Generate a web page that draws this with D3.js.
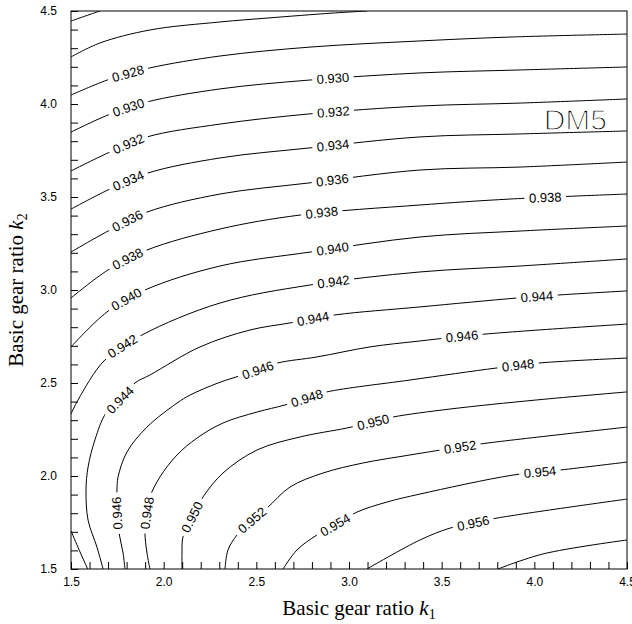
<!DOCTYPE html>
<html>
<head>
<meta charset="utf-8">
<script src="https://cdn.jsdelivr.net/npm/d3@7"></script>
<style>
  body { margin: 0; background: #fff; }
  svg { display: block; }
  .tick text { font-family: "Liberation Sans", Arial, sans-serif; font-size: 12px; fill: #000; }
  .tick line { stroke: #000; }
</style>
</head>
<body>
<div id="chart-area"></div>
<script>
// contour lines, [k1, k2]
const line924 = [[1.5, 4.446], [1.58, 4.474], [1.656, 4.5]];
const line926 = [[1.5, 4.253], [1.656, 4.328], [1.926, 4.398], [2.304, 4.441], [2.558, 4.462], [2.914, 4.489], [3.097, 4.5]];
const line928 = [[1.5, 4.048], [1.71, 4.134], [1.926, 4.194], [2.304, 4.258], [2.79, 4.306], [3.383, 4.339], [3.869, 4.36], [4.5, 4.376]];
const line930 = [[1.5, 3.849], [1.7, 3.941], [1.91, 4.011], [2.304, 4.081], [2.79, 4.129], [3.383, 4.167], [3.923, 4.183], [4.5, 4.199]];
const line932 = [[1.5, 3.64], [1.7, 3.737], [1.91, 3.823], [2.304, 3.892], [2.779, 3.946], [3.383, 3.989], [3.923, 4.005], [4.5, 4.027]];
const line934 = [[1.5, 3.435], [1.7, 3.538], [1.915, 3.629], [2.304, 3.71], [2.779, 3.763], [3.383, 3.823], [3.923, 3.839], [4.5, 3.855]];
const line936 = [[1.5, 3.204], [1.7, 3.317], [1.91, 3.419], [2.304, 3.516], [2.779, 3.575], [3.383, 3.645], [3.923, 3.661], [4.5, 3.688]];
const line938 = [[1.5, 2.957], [1.7, 3.108], [1.91, 3.215], [2.304, 3.328], [2.736, 3.403], [3.383, 3.457], [3.869, 3.489], [4.5, 3.516]];
const line940 = [[1.5, 2.694], [1.694, 2.882], [1.899, 3.0], [2.304, 3.129], [2.79, 3.204], [3.383, 3.285], [3.923, 3.317], [4.5, 3.344]];
const line942 = [[1.5, 2.333], [1.538, 2.409], [1.683, 2.624], [1.883, 2.758], [2.304, 2.93], [2.79, 3.027], [3.383, 3.097], [3.923, 3.129], [4.5, 3.167]];
const line942b = [[1.5, 1.705], [1.545, 1.6], [1.59, 1.5]];
const line944 = [[1.673, 1.5], [1.64, 1.618], [1.592, 1.763], [1.581, 1.925], [1.592, 2.048], [1.629, 2.194], [1.689, 2.339], [1.764, 2.409], [1.845, 2.5], [1.926, 2.543], [2.196, 2.694], [2.466, 2.785], [2.682, 2.823], [2.925, 2.866], [3.383, 2.909], [3.907, 2.957], [4.128, 2.973], [4.5, 2.995]];
const line946 = [[1.791, 1.5], [1.781, 1.586], [1.759, 1.694], [1.748, 1.801], [1.748, 1.925], [1.754, 1.995], [1.802, 2.129], [1.91, 2.263], [2.072, 2.392], [2.142, 2.435], [2.293, 2.5], [2.374, 2.527], [2.509, 2.57], [2.617, 2.608], [2.827, 2.64], [3.113, 2.694], [3.383, 2.726], [3.734, 2.763], [4.5, 2.817]];
const line948 = [[1.926, 1.5], [1.91, 1.586], [1.899, 1.699], [1.91, 1.801], [1.926, 1.887], [1.98, 1.995], [2.072, 2.113], [2.18, 2.204], [2.32, 2.285], [2.504, 2.344], [2.655, 2.382], [2.773, 2.419], [2.881, 2.452], [3.329, 2.516], [3.799, 2.581], [4.031, 2.608], [4.5, 2.634]];
const line950 = [[2.099, 1.5], [2.099, 1.586], [2.104, 1.672], [2.153, 1.78], [2.212, 1.887], [2.32, 2.016], [2.504, 2.14], [2.736, 2.21], [2.989, 2.258], [3.13, 2.29], [3.237, 2.317], [3.545, 2.36], [4.014, 2.409], [4.5, 2.452]];
const line952 = [[2.331, 1.5], [2.347, 1.602], [2.396, 1.683], [2.477, 1.763], [2.558, 1.828], [2.682, 1.941], [2.86, 2.016], [3.076, 2.07], [3.329, 2.113], [3.599, 2.156], [3.745, 2.177], [4.5, 2.263]];
const line954 = [[2.644, 1.5], [2.719, 1.602], [2.827, 1.683], [2.925, 1.737], [3.043, 1.806], [3.205, 1.86], [3.383, 1.903], [3.885, 2.005], [4.139, 2.032], [4.5, 2.075]];
const line956 = [[3.097, 1.5], [3.383, 1.656], [3.545, 1.72], [3.669, 1.747], [3.799, 1.774], [4.5, 1.876]];
const line958 = [[3.804, 1.5], [4.047, 1.581], [4.5, 1.656]];

// [level, k1, k2] where each label sits
const contourLabels = [
  [0.928, 1.808, 4.167],
  [0.930, 1.808, 3.989], [0.930, 2.914, 4.140],
  [0.932, 1.808, 3.790], [0.932, 2.914, 3.957],
  [0.934, 1.808, 3.591], [0.934, 2.914, 3.785],
  [0.936, 1.802, 3.376], [0.936, 2.908, 3.602],
  [0.938, 1.808, 3.161], [0.938, 2.854, 3.414], [0.938, 4.058, 3.500],
  [0.940, 1.802, 2.946], [0.940, 2.908, 3.242],
  [0.942, 1.781, 2.694], [0.942, 2.914, 3.054],
  [0.944, 1.764, 2.409], [0.944, 2.806, 2.844], [0.944, 4.014, 2.968],
  [0.946, 1.748, 1.801], [0.946, 2.509, 2.570], [0.946, 3.610, 2.753],
  [0.948, 1.910, 1.801], [0.948, 2.773, 2.419], [0.948, 3.912, 2.597],
  [0.950, 2.153, 1.780], [0.950, 3.130, 2.290],
  [0.952, 2.477, 1.763], [0.952, 3.599, 2.156],
  [0.954, 2.925, 1.737], [0.954, 4.031, 2.022],
  [0.956, 3.669, 1.747]
];

const majorTicks = [1.5, 2.0, 2.5, 3.0, 3.5, 4.0, 4.5];
const minorTicks = d3.range(15, 46).map(d => d / 10);

const contourLines = [
  { level: 0.924, points: line924 },
  { level: 0.926, points: line926 },
  { level: 0.928, points: line928 },
  { level: 0.930, points: line930 },
  { level: 0.932, points: line932 },
  { level: 0.934, points: line934 },
  { level: 0.936, points: line936 },
  { level: 0.938, points: line938 },
  { level: 0.940, points: line940 },
  { level: 0.942, points: line942 },
  { level: 0.942, points: line942b },
  { level: 0.944, points: line944 },
  { level: 0.946, points: line946 },
  { level: 0.948, points: line948 },
  { level: 0.950, points: line950 },
  { level: 0.952, points: line952 },
  { level: 0.954, points: line954 },
  { level: 0.956, points: line956 },
  { level: 0.958, points: line958 }
];

const chartWidth = 632;
const chartHeight = 624;
const margin = { top: 11, left: 71, right: 5, bottom: 55 };
const plotWidth = chartWidth - margin.left - margin.right;
const plotHeight = chartHeight - margin.top - margin.bottom;

const svg = d3.select("#chart-area")
  .append("svg")
  .attr("width", chartWidth)
  .attr("height", chartHeight);

const xScale = d3.scaleLinear().domain([1.5, 4.5]).range([0, plotWidth]);
const yScale = d3.scaleLinear().domain([1.5, 4.5]).range([plotHeight, 0]);

const fmt = d3.format(".1f");
const fmt3 = d3.format(".3f");
const isMajor = d => majorTicks.some(m => Math.abs(m - d) < 1e-6);

const defs = svg.append("defs");
defs.append("clipPath")
  .attr("id", "plot-clip")
  .append("rect")
  .attr("width", plotWidth)
  .attr("height", plotHeight);

const mask = defs.append("mask")
  .attr("id", "label-gaps")
  .attr("maskUnits", "userSpaceOnUse")
  .attr("x", -10).attr("y", -10)
  .attr("width", plotWidth + 20).attr("height", plotHeight + 20);
mask.append("rect")
  .attr("x", -10).attr("y", -10)
  .attr("width", plotWidth + 20).attr("height", plotHeight + 20)
  .attr("fill", "#fff");

const plot = svg.append("g")
  .attr("transform", "translate(" + margin.left + "," + margin.top + ")");

// axes, ticks point inward
const axisY = d3.axisLeft(yScale)
  .tickValues(minorTicks)
  .tickSize(-7)
  .tickPadding(14)
  .tickFormat(d => isMajor(d) ? fmt(d) : "");

plot.append("g")
  .call(axisY)
  .call(g => g.select(".domain").remove());

const axisX = d3.axisBottom(xScale)
  .tickValues(minorTicks)
  .tickSize(-7)
  .tickPadding(8)
  .tickFormat(d => isMajor(d) ? fmt(d) : "");

plot.append("g")
  .attr("transform", "translate(0," + plotHeight + ")")
  .call(axisX)
  .call(g => g.select(".domain").remove());

const lineGen = d3.line()
  .x(d => xScale(d[0]))
  .y(d => yScale(d[1]))
  .curve(d3.curveCatmullRom.alpha(0.5));

const contourGroup = plot.append("g")
  .attr("clip-path", "url(#plot-clip)")
  .append("g")
  .attr("mask", "url(#label-gaps)");

const paths = contourGroup.selectAll("path")
  .data(contourLines)
  .enter()
  .append("path")
  .attr("d", d => lineGen(d.points))
  .attr("fill", "none")
  .attr("stroke", "#000")
  .attr("stroke-width", 1);

// place labels on the nearest point of the matching contour
const labelGroup = plot.append("g");
contourLabels.forEach(([level, k1, k2]) => {
  const tx = xScale(k1), ty = yScale(k2);
  let best = null;
  paths.filter(d => d.level === level).each(function () {
    const len = this.getTotalLength();
    for (let s = 0; s <= len; s += 0.5) {
      const p = this.getPointAtLength(s);
      const dist = (p.x - tx) ** 2 + (p.y - ty) ** 2;
      if (!best || dist < best.dist) best = { dist, s, node: this, len, p };
    }
  });
  const p1 = best.node.getPointAtLength(Math.max(0, best.s - 5));
  const p2 = best.node.getPointAtLength(Math.min(best.len, best.s + 5));
  let angle = Math.atan2(p2.y - p1.y, p2.x - p1.x) * 180 / Math.PI;
  // steep labels read upwards, like the original
  if (angle > 75) angle -= 180;
  if (angle <= -105) angle += 180;

  const text = labelGroup.append("text")
    .attr("transform", "translate(" + best.p.x + "," + best.p.y + ") rotate(" + angle + ")")
    .attr("text-anchor", "middle")
    .attr("dy", "0.36em")
    .attr("font-family", "'Liberation Sans', Arial, sans-serif")
    .attr("font-size", 13)
    .text(fmt3(level));
  const w = text.node().getComputedTextLength() + 9;
  mask.append("rect")
    .attr("x", -w / 2).attr("y", -7)
    .attr("width", w).attr("height", 14)
    .attr("fill", "#000")
    .attr("transform", "translate(" + best.p.x + "," + best.p.y + ") rotate(" + angle + ")");
});

// frame
plot.append("rect")
  .attr("width", plotWidth)
  .attr("height", plotHeight)
  .attr("fill", "none")
  .attr("stroke", "#000")
  .attr("stroke-width", 1);

// DM5 tag, thinned with a white stroke on top of the fill
plot.append("text")
  .attr("x", xScale(4.5) - 20)
  .attr("y", 119)
  .attr("text-anchor", "end")
  .attr("font-family", "'Liberation Sans', Arial, sans-serif")
  .attr("font-size", 30)
  .attr("fill", "#000")
  .attr("stroke", "#fff")
  .attr("stroke-width", 1.4)
  .text("DM5");

// axis titles
const xTitle = svg.append("text")
  .attr("x", margin.left + plotWidth / 2 + 10)
  .attr("y", 615)
  .attr("text-anchor", "middle")
  .attr("font-family", "'Liberation Serif', 'Times New Roman', serif")
  .attr("font-size", 21);
xTitle.append("tspan").text("Basic gear ratio ");
xTitle.append("tspan").attr("font-style", "italic").text("k");
xTitle.append("tspan").attr("font-size", 14).attr("dy", 4).text("1");

const yTitle = svg.append("text")
  .attr("transform", "translate(23," + (margin.top + plotHeight / 2) + ") rotate(-90)")
  .attr("text-anchor", "middle")
  .attr("font-family", "'Liberation Serif', 'Times New Roman', serif")
  .attr("font-size", 21);
yTitle.append("tspan").text("Basic gear ratio ");
yTitle.append("tspan").attr("font-style", "italic").text("k");
yTitle.append("tspan").attr("font-size", 14).attr("dy", 4).text("2");
</script>
</body>
</html>
